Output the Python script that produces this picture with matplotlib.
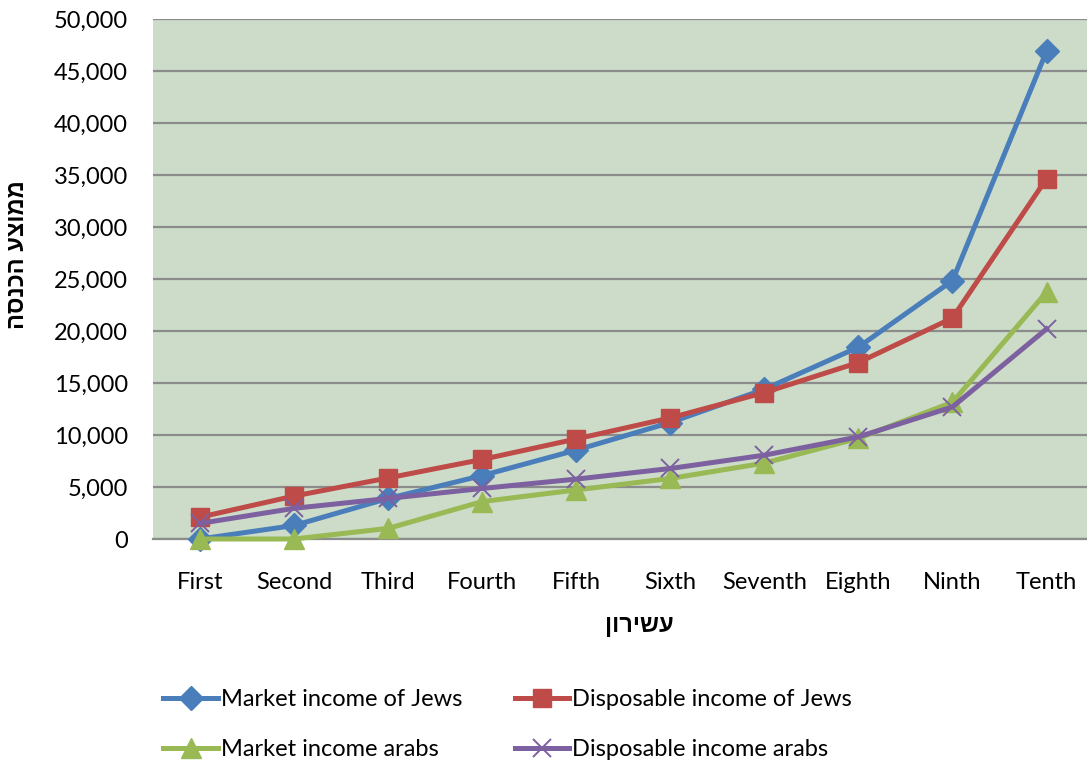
import matplotlib
matplotlib.use("Agg")
import matplotlib.pyplot as plt
from matplotlib.ticker import FuncFormatter

# Data (average income per decile)
deciles = ["First", "Second", "Third", "Fourth", "Fifth",
           "Sixth", "Seventh", "Eighth", "Ninth", "Tenth"]
market_jews = [0, 1300, 3900, 6100, 8550, 11200, 14400, 18450, 24850, 46900]
disposable_jews = [2100, 4130, 5870, 7650, 9620, 11650, 14080, 16970, 21250, 34650]
market_arabs = [0, 0, 1020, 3600, 4720, 5820, 7300, 9680, 13150, 23750]
disposable_arabs = [1500, 2950, 3900, 4860, 5760, 6780, 8060, 9820, 12700, 20200]

x_title = "עשירון"
y_title = "ממוצע הכנסה"

series = [
    ("Market income of Jews", market_jews, "#4a7ebb", "D", 12),
    ("Disposable income of Jews", disposable_jews, "#be4b48", "s", 13),
    ("Market income arabs", market_arabs, "#98b954", "^", 14),
    ("Disposable income arabs", disposable_arabs, "#7d60a0", "x", 13),
]

plt.rcParams["font.family"] = ["Lato", "DejaVu Sans"]

fig = plt.figure(figsize=(10.87, 7.6), dpi=100)
ax = fig.add_axes([153 / 1087, 1 - 539 / 760, 1 - 153 / 1087, 520 / 760])
ax.set_facecolor("#ccdcc8")

xs = list(range(len(deciles)))
lines = []
for name, vals, color, marker, ms in series:
    kw = dict(markeredgewidth=1.4) if marker == "x" else dict(markeredgecolor=color)
    ln, = ax.plot(xs, vals, color=color, linewidth=3.6, marker=marker,
                  markersize=ms, label=name, clip_on=False, zorder=3, **kw)
    lines.append(ln)

ax.set_xlim(-0.5, 9.43)
ax.set_ylim(0, 50000)
ax.set_yticks(range(0, 50001, 5000))
ax.yaxis.set_major_formatter(FuncFormatter(lambda v, p: f"{int(v):,}"))
ax.set_xticks(xs)
ax.set_xticklabels(deciles)
ax.grid(axis="y", color="#8c8c8c", linewidth=1.6)
ax.set_axisbelow(True)
for s in ["top", "right", "left"]:
    ax.spines[s].set_visible(False)
ax.spines["bottom"].set_color("#8c8c8c")
ax.spines["bottom"].set_linewidth(1.6)
ax.tick_params(axis="both", length=0, labelsize=17)
ax.tick_params(axis="x", pad=24)
ax.tick_params(axis="y", pad=18)

# Hebrew is right-to-left; matplotlib has no bidi so reverse the characters
ax.set_xlabel(x_title[::-1], fontsize=17, fontweight="bold",
              family=["Liberation Sans", "DejaVu Sans"])
ax.xaxis.set_label_coords(0.521, -0.145)
ax.set_ylabel(y_title[::-1], fontsize=17, fontweight="bold",
              family=["Liberation Sans", "DejaVu Sans"])
ax.yaxis.set_label_coords(-0.133, 0.546)

# legend fills column by column, so order handles to get the rows right
order = [0, 2, 1, 3]
fig.legend([lines[i] for i in order], [series[i][0] for i in order],
           loc="upper left", bbox_to_anchor=(154 / 1087, 1 - 680 / 760),
           ncol=2, frameon=False, fontsize=17, handlelength=2.3,
           handletextpad=0.15, columnspacing=2.2, labelspacing=1.2,
           borderaxespad=0)

fig.savefig("out.png", dpi=100)
